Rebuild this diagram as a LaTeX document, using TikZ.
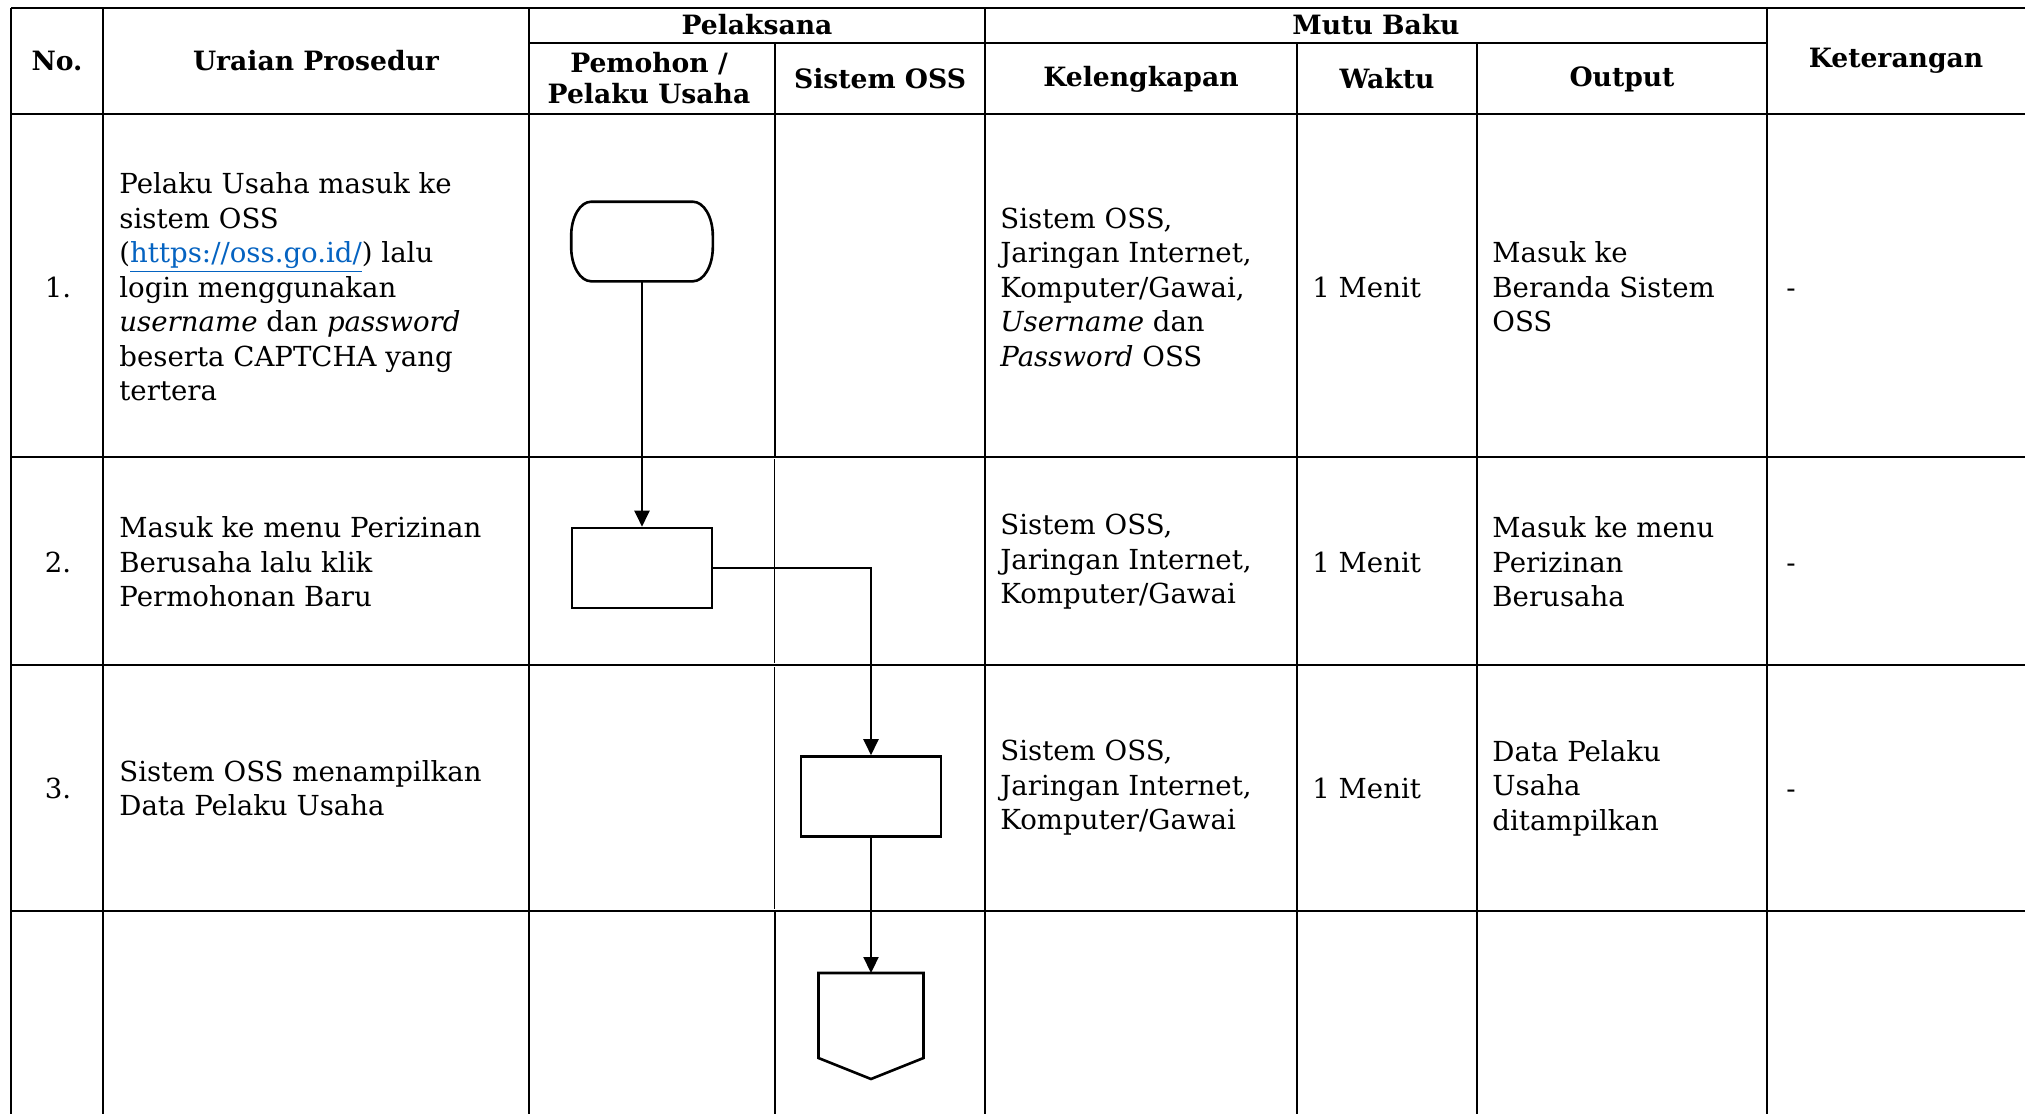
\documentclass[tikz,border=0pt]{standalone}
\usepackage{fontspec}
\setmainfont{DejaVu Serif}
\usepackage{xcolor}
\usepackage{tikz}
\usetikzlibrary{positioning,arrows.meta,calc}
\definecolor{clink}{RGB}{5,99,193}
\definecolor{cgrid}{RGB}{0,0,0}
\newcommand{\osslink}[1]{\textcolor{clink}{\underline{#1}}}

\begin{document}
\begin{tikzpicture}[x=0.5pt,y=-0.5pt,
  font=\fontsize{13.8}{17.25}\selectfont,
  hd/.style={font=\fontsize{13.3}{15.5}\selectfont\bfseries,align=center,inner sep=0},
  cell/.style={anchor=west,align=left,inner sep=0},
  num/.style={inner sep=0},
  hl/.style={cgrid,line width=1.35pt},
  vl/.style={cgrid,line width=1.1pt},
  term/.style={line width=1.3pt,minimum width=69.5pt,minimum height=38.5pt,inner sep=0},
  proc/.style={draw,line width=1.3pt,minimum width=70pt,minimum height=40pt,inner sep=0},
  a/.style={-{Triangle[length=8pt,width=7.5pt]},line width=1.1pt},
]
\useasboundingbox (0,0) rectangle (2025,1114);
% --- grid ---
\foreach \y in {8,114,457,665,911} \draw[hl] (11,\y) -- (2025,\y);
\draw[hl] (529,43) -- (1767,43);
\foreach \x in {11,103,529,985,1767} \draw[vl] (\x,8) -- (\x,1114);
\foreach \x in {1297,1477} \draw[vl] (\x,43) -- (\x,1114);
\draw[vl] (775,43) -- (775,457);
\draw[cgrid,line width=0.45pt] (774,459) -- (774,663) (774,667) -- (774,909);
\draw[vl] (775,911) -- (775,1114);
% --- header ---
\node[hd] (hno) at (57,61) {No.};
\node[hd] (hur) at (316,61) {Uraian Prosedur};
\node[hd] (hpl) at (757,25) {Pelaksana};
\node[hd] (hpm) at (649,78) {Pemohon /\\Pelaku Usaha};
\node[hd] (hso) at (880,79) {Sistem OSS};
\node[hd] (hmb) at (1376,25) {Mutu Baku};
\node[hd] (hkl) at (1141,79) {Kelengkapan};
\node[hd] (hwk) at (1387,79) {Waktu};
\node[hd] (hou) at (1622,79) {Output};
\node[hd] (hkt) at (1896,61) {Keterangan};
% --- row 1 ---
\node[num] (n1) at (58,287) {1.};
\node[cell] (u1) at (119,287) {Pelaku Usaha masuk ke\\sistem OSS\\(\osslink{https://oss.go.id/}) lalu\\login menggunakan\\\textit{username} dan \textit{password}\\beserta CAPTCHA yang\\tertera};
\node[cell] (k1) at (1000,287) {Sistem OSS,\\Jaringan Internet,\\Komputer/Gawai,\\\textit{Username} dan\\\textit{Password} OSS};
\node[cell] (w1) at (1312,287) {1 Menit};
\node[cell] (o1) at (1492,287) {Masuk ke\\Beranda Sistem\\OSS};
\node[cell] (c1) at (1786,287) {\vphantom{M}-};
% --- row 2 ---
\node[num] (n2) at (58,562) {2.};
\node[cell] (u2) at (119,562) {Masuk ke menu Perizinan\\Berusaha lalu klik\\Permohonan Baru};
\node[cell] (k2) at (1000,562) {Sistem OSS,\\Jaringan Internet,\\Komputer/Gawai};
\node[cell] (w2) at (1312,562) {1 Menit};
\node[cell] (o2) at (1492,562) {Masuk ke menu\\Perizinan\\Berusaha};
\node[cell] (c2) at (1786,562) {\vphantom{M}-};
% --- row 3 ---
\node[num] (n3) at (58,788) {3.};
\node[cell] (u3) at (119,788) {Sistem OSS menampilkan\\Data Pelaku Usaha};
\node[cell] (k3) at (1000,788) {Sistem OSS,\\Jaringan Internet,\\Komputer/Gawai};
\node[cell] (w3) at (1312,788) {1 Menit};
\node[cell] (o3) at (1492,788) {Data Pelaku\\Usaha\\ditampilkan};
\node[cell] (c3) at (1786,788) {\vphantom{M}-};
% --- flow ---
\node[term] (t1) at (642,241.5) {};
\draw[line width=1.3pt] ($(t1.north west)+(10pt,0)$) -- ($(t1.north east)+(-10pt,0)$)
  arc[start angle=90,end angle=0,x radius=10pt,y radius=17pt] -- ($(t1.south east)+(0,17pt)$)
  arc[start angle=0,end angle=-90,x radius=10pt,y radius=17pt] -- ($(t1.south west)+(10pt,0)$)
  arc[start angle=270,end angle=180,x radius=10pt,y radius=17pt] -- ($(t1.north west)+(0,-17pt)$)
  arc[start angle=180,end angle=90,x radius=10pt,y radius=17pt] -- cycle;
\node[proc] (p2) at (642,568) {};
\node[proc] (p3) at (871,796.5) {};
\coordinate (opc) at (871,973);
\draw[line width=1.3pt] (opc) -- ++(52.5,0) -- ++(0,85) -- ++(-52.5,21) -- ++(-52.5,-21) -- ++(0,-85) -- cycle;
\draw[a] (t1) -- (p2);
\draw[a] (p2.east) -| (p3.north);
\draw[a] (p3) -- (opc);
\end{tikzpicture}
\end{document}
